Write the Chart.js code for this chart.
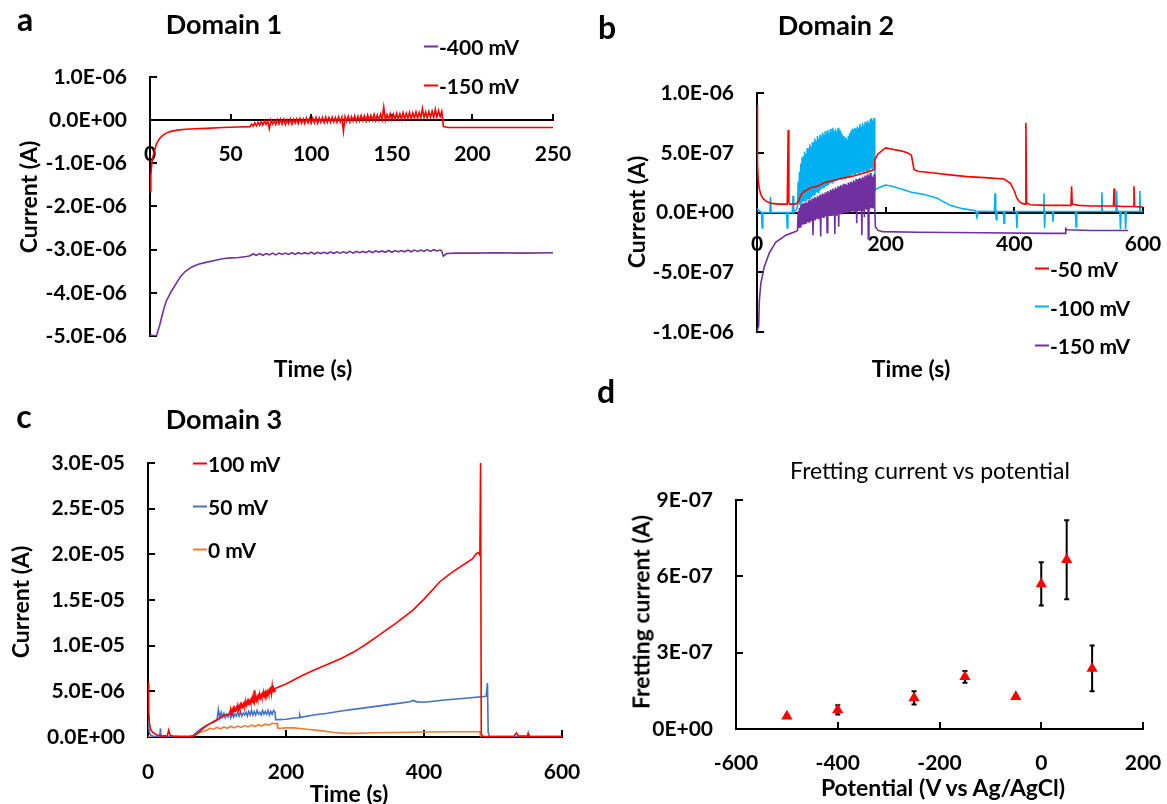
<!DOCTYPE html>
<html>
<head>
<meta charset="utf-8">
<title>Domain current transients</title>
<script src="https://cdn.jsdelivr.net/npm/chart.js@4.4.1/dist/chart.umd.min.js"></script>
<style>
  body { margin: 0; background: #fff; }
  #page { position: relative; width: 1167px; height: 804px; overflow: hidden; font-family: Lato, 'Open Sans', sans-serif; color: #000; }
  canvas { position: absolute; }
  .txt { position: absolute; white-space: nowrap; font-weight: bold; line-height: 1; transform: translate(-50%, -50%); }
  .rot { transform: translate(-50%, -50%) rotate(-90deg); }
  .leg { position: absolute; white-space: nowrap; font-weight: bold; font-size: 21px; line-height: 1; transform: translateY(-50%); display: flex; align-items: center; }
  .leg i { display: inline-block; width: 14px; height: 2px; margin-right: 1px; }
</style>
</head>
<body>
<div id="page">
  <canvas id="chartA" width="580" height="400" style="left:0;top:0"></canvas>
  <canvas id="chartB" width="587" height="400" style="left:580px;top:0"></canvas>
  <canvas id="chartC" width="600" height="414" style="left:0;top:390px"></canvas>
  <canvas id="chartD" width="587" height="414" style="left:580px;top:390px"></canvas>

  <div class="txt" style="left:25px;top:19px;font-size:32px">a</div>
  <div class="txt" style="left:224px;top:23px;font-size:27px">Domain 1</div>
  <div class="txt" style="left:313px;top:368px;font-size:23px">Time (s)</div>
  <div class="txt rot" style="left:28px;top:197px;font-size:23px">Current (A)</div>

  <div class="txt" style="left:607px;top:27px;font-size:32px">b</div>
  <div class="txt" style="left:836px;top:24px;font-size:27px">Domain 2</div>
  <div class="txt" style="left:911px;top:368px;font-size:23px">Time (s)</div>
  <div class="txt rot" style="left:636px;top:212px;font-size:23px">Current (A)</div>

  <div class="txt" style="left:24px;top:416px;font-size:32px">c</div>
  <div class="txt" style="left:224px;top:418px;font-size:27px">Domain 3</div>
  <div class="txt" style="left:349px;top:793px;font-size:23px">Time (s)</div>
  <div class="txt rot" style="left:20px;top:602px;font-size:23px">Current (A)</div>

  <div class="txt" style="left:606px;top:391px;font-size:32px">d</div>
  <div class="txt" style="left:930px;top:470px;font-size:23px;font-weight:normal">Fretting current vs potential</div>
  <div class="txt" style="left:943px;top:787px;font-size:23px">Potential (V vs Ag/AgCl)</div>
  <div class="txt rot" style="left:641px;top:612px;font-size:23px">Fretting current (A)</div>
</div>
<script>
// ---- panel a : Domain 1 ----
const aLabels = ['-400 mV', '-150 mV'];
const aColors = ['#7030A0', '#FF0000'];
const aXTicks = [0, 50, 100, 150, 200, 250];
const aYTicks = [1e-6, 0, -1e-6, -2e-6, -3e-6, -4e-6, -5e-6];

const aTime400 = [0, 4, 6, 8, 10, 13, 16, 19, 22, 26, 30, 34, 40, 45, 50, 55, 60,
  62, 64, 66, 68, 70, 72, 74, 76, 78, 80,
  82, 84, 86, 88, 90, 92, 94, 96, 98, 100,
  102, 104, 106, 108, 110, 112, 114, 116, 118, 120,
  122, 124, 126, 128, 130, 132, 134, 136, 138, 140,
  142, 144, 146, 148, 150, 152, 154, 156, 158, 160,
  162, 164, 166, 168, 170, 172, 174, 176, 178, 180,
  181, 182, 184, 190, 200, 215, 230, 250];
const aCur400 = [-4.98e-6, -5.0e-6, -4.75e-6, -4.45e-6, -4.2e-6, -3.98e-6, -3.8e-6, -3.62e-6, -3.5e-6, -3.4e-6,
  -3.34e-6, -3.3e-6, -3.25e-6, -3.21e-6, -3.19e-6, -3.18e-6, -3.16e-6,
  -3.14e-6, -3.10e-6, -3.13e-6, -3.09e-6, -3.13e-6, -3.09e-6, -3.12e-6, -3.08e-6, -3.12e-6, -3.08e-6,
  -3.11e-6, -3.08e-6, -3.11e-6, -3.07e-6, -3.11e-6, -3.07e-6, -3.10e-6, -3.07e-6, -3.10e-6, -3.06e-6,
  -3.10e-6, -3.06e-6, -3.09e-6, -3.06e-6, -3.09e-6, -3.05e-6, -3.09e-6, -3.05e-6, -3.08e-6, -3.05e-6,
  -3.08e-6, -3.04e-6, -3.08e-6, -3.04e-6, -3.07e-6, -3.04e-6, -3.07e-6, -3.03e-6, -3.07e-6, -3.03e-6,
  -3.06e-6, -3.03e-6, -3.06e-6, -3.02e-6, -3.06e-6, -3.02e-6, -3.05e-6, -3.02e-6, -3.05e-6, -3.01e-6,
  -3.05e-6, -3.01e-6, -3.04e-6, -3.01e-6, -3.04e-6, -3.00e-6, -3.04e-6, -3.00e-6, -3.03e-6, -3.01e-6,
  -3.03e-6, -3.15e-6, -3.09e-6, -3.08e-6, -3.08e-6, -3.07e-6, -3.08e-6, -3.07e-6];

const aTime150 = [0, 0.5, 1, 2, 3, 4, 6, 8, 10, 13, 17, 22, 28, 35, 45, 55,
  62, 63, 64, 65, 66, 67, 68, 69, 70, 71,
  72, 73, 74, 75, 76, 77, 78, 79, 80, 81,
  82, 83, 84, 85, 86, 87, 88, 89, 90, 91,
  92, 93, 94, 95, 96, 97, 98, 99, 100, 101,
  102, 103, 104, 105, 106, 107, 108, 109, 110, 111,
  112, 113, 114, 115, 116, 117, 118, 119, 120, 121,
  122, 123, 124, 125, 126, 127, 128, 129, 130, 131,
  132, 133, 134, 135, 136, 137, 138, 139, 140, 141,
  142, 143, 144, 145, 146, 147, 148, 149, 150, 151,
  152, 153, 154, 155, 156, 157, 158, 159, 160, 161,
  162, 163, 164, 165, 166, 167, 168, 169, 170, 171,
  172, 173, 174, 175, 176, 177, 178, 179, 180, 181,
  182, 185, 200, 225, 250];
const aCur150 = [-1.65e-6, -1.3e-6, -1.05e-6, -0.82e-6, -0.68e-6, -0.55e-6, -0.42e-6, -0.35e-6,
  -0.3e-6, -0.26e-6, -0.23e-6, -0.21e-6, -0.2e-6, -0.19e-6, -0.17e-6, -0.16e-6,
  -0.15e-6, -0.09e-6, -0.14e-6, -0.06e-6, -0.13e-6, -0.05e-6, -0.12e-6, -0.03e-6, -0.11e-6, -0.02e-6,
  -0.10e-6, -0.01e-6, -0.20e-6, 0.00e-6, -0.09e-6, -0.01e-6, -0.10e-6, 0.01e-6, -0.09e-6, 0.02e-6,
  -0.09e-6, 0.02e-6, -0.10e-6, 0.01e-6, -0.08e-6, 0.03e-6, -0.09e-6, 0.02e-6, -0.07e-6, 0.03e-6,
  -0.08e-6, 0.04e-6, -0.07e-6, 0.03e-6, -0.08e-6, 0.05e-6, -0.06e-6, 0.04e-6, -0.07e-6, 0.05e-6,
  -0.06e-6, 0.06e-6, -0.07e-6, 0.05e-6, -0.05e-6, 0.06e-6, -0.06e-6, 0.07e-6, -0.05e-6, 0.06e-6,
  -0.05e-6, 0.07e-6, -0.04e-6, 0.06e-6, -0.05e-6, 0.08e-6, -0.04e-6, 0.07e-6, -0.26e-6, 0.08e-6,
  -0.03e-6, 0.09e-6, -0.04e-6, 0.08e-6, -0.02e-6, 0.10e-6, -0.03e-6, 0.09e-6, -0.02e-6, 0.11e-6,
  -0.01e-6, 0.10e-6, -0.02e-6, 0.12e-6, -0.01e-6, 0.11e-6, 0.00e-6, 0.13e-6, -0.01e-6, 0.12e-6,
  0.00e-6, 0.14e-6, 0.01e-6, 0.30e-6, 0.00e-6, 0.13e-6, 0.02e-6, 0.15e-6, 0.01e-6, 0.14e-6,
  0.02e-6, 0.16e-6, 0.03e-6, 0.15e-6, 0.02e-6, 0.17e-6, 0.03e-6, 0.16e-6, 0.04e-6, 0.18e-6,
  0.03e-6, 0.17e-6, 0.05e-6, 0.19e-6, 0.04e-6, 0.18e-6, 0.05e-6, 0.27e-6, 0.06e-6, 0.19e-6,
  0.05e-6, 0.20e-6, 0.07e-6, 0.21e-6, 0.06e-6, 0.25e-6, 0.07e-6, 0.22e-6, 0.08e-6, 0.20e-6,
  -0.15e-6, -0.17e-6, -0.17e-6, -0.17e-6, -0.17e-6];

// ---- panel b : Domain 2 ----
const bLabels = ['-50 mV', '-100 mV', '-150 mV'];
const bColors = ['#FF0000', '#00B0F0', '#7030A0'];
const bXTicks = [0, 200, 400, 600];
const bYTicks = [1e-6, 5e-7, 0, -5e-7, -1e-6];

const bTime50 = [0, 0.5, 1, 2, 3.5, 6, 9, 14, 22, 35,
  47, 48.5, 49.5, 51, 58, 62, 65, 68, 72, 78,
  85, 94, 105, 120, 135, 146, 160, 172, 182, 183,
  188, 195, 200, 210, 220, 228, 235, 240, 244, 250,
  275, 300, 327, 360, 384, 394, 400, 404, 408, 412,
  417, 418, 419, 425, 450, 488, 489, 490, 500, 520,
  554, 555, 556, 570, 585, 586, 587, 600];
const bCur50 = [9.0e-7, 6.0e-7, 4.0e-7, 2.7e-7, 2.0e-7, 1.5e-7, 1.2e-7, 0.95e-7, 0.76e-7, 0.7e-7,
  0.7e-7, 6.9e-7, 0.8e-7, 0.7e-7, 0.7e-7, 0.75e-7, 1.0e-7, 1.45e-7, 1.7e-7, 1.9e-7,
  2.1e-7, 2.2e-7, 2.5e-7, 2.7e-7, 2.9e-7, 3.0e-7, 3.2e-7, 3.4e-7, 3.6e-7, 4.4e-7,
  4.9e-7, 5.2e-7, 5.4e-7, 5.3e-7, 5.2e-7, 5.1e-7, 4.95e-7, 4.8e-7, 3.6e-7, 3.45e-7,
  3.3e-7, 3.15e-7, 3.0e-7, 2.9e-7, 2.8e-7, 2.45e-7, 1.8e-7, 1.2e-7, 0.9e-7, 0.75e-7,
  0.7e-7, 7.5e-7, 0.8e-7, 0.65e-7, 0.6e-7, 0.6e-7, 2.2e-7, 0.7e-7, 0.6e-7, 0.55e-7,
  0.55e-7, 2.0e-7, 0.55e-7, 0.5e-7, 0.5e-7, 2.2e-7, 0.5e-7, 0.45e-7];

const bTime100 = [0, 7, 8, 9, 20, 21, 22, 46, 47, 48, 55, 56, 57, 62,
  63, 64, 65, 66, 67, 68, 69, 70, 71, 72,
  73, 74, 75, 76, 77, 78, 79, 80, 81, 82,
  83, 84, 85, 86, 87, 88, 89, 90, 91, 92,
  93, 94, 95, 96, 97, 98, 99, 100, 101, 102,
  103, 104, 105, 106, 107, 108, 109, 110, 111, 112,
  113, 114, 115, 116, 117, 118, 119, 120, 121, 122,
  123, 124, 125, 126, 127, 128, 129, 130, 131, 132,
  133, 134, 135, 136, 137, 138, 139, 140, 141, 142,
  143, 144, 145, 146, 147, 148, 149, 150, 151, 152,
  153, 154, 155, 156, 157, 158, 159, 160, 161, 162,
  163, 164, 165, 166, 167, 168, 169, 170, 171, 172,
  173, 174, 175, 176, 177, 178, 179, 180, 181, 182,
  183,
  184, 190, 200, 210, 228, 240, 260, 280, 300, 321,
  340, 342, 344, 369, 370, 371, 372, 373, 383, 384,
  385, 403, 404, 405, 445, 446, 447, 448, 459, 460,
  461, 495, 496, 497, 535, 536, 537, 558, 559, 560,
  564, 565, 566, 572, 573, 574, 594, 595, 596, 600];
const bCur100 = [0.3e-7, 0, -1.3e-7, 0, 0, 1.3e-7, 0, 0, -1.3e-7, 0, 0, 1.4e-7, 0, 0.3e-7,
  0.6e-7, 2.6e-7, 0.7e-7, 3.4e-7, 0.7e-7, 4.1e-7, 0.8e-7, 4.6e-7, 0.9e-7, 4.7e-7,
  0.9e-7, 5.1e-7, 1.0e-7, 4.9e-7, 1.0e-7, 5.4e-7, 1.1e-7, 5.3e-7, 1.2e-7, 5.7e-7,
  1.2e-7, 5.5e-7, 1.3e-7, 5.9e-7, 1.4e-7, 5.8e-7, 1.5e-7, 6.2e-7, 1.6e-7, 6.0e-7,
  1.7e-7, 6.4e-7, 1.7e-7, 6.2e-7, 1.8e-7, 6.5e-7, 1.9e-7, 6.3e-7, 2.0e-7, 6.7e-7,
  2.1e-7, 6.5e-7, 2.1e-7, 6.8e-7, 2.2e-7, 6.6e-7, 2.3e-7, 6.9e-7, 2.3e-7, 6.7e-7,
  2.4e-7, 7.0e-7, 2.5e-7, 6.8e-7, 2.5e-7, 7.1e-7, 2.6e-7, 6.8e-7, 2.6e-7, 7.0e-7,
  2.7e-7, 6.8e-7, 2.7e-7, 7.1e-7, 2.8e-7, 6.9e-7, 2.8e-7, 6.8e-7, 2.8e-7, 6.6e-7,
  2.9e-7, 6.4e-7, 2.9e-7, 6.2e-7, 2.9e-7, 6.3e-7, 3.0e-7, 6.1e-7, 3.0e-7, 6.4e-7,
  3.0e-7, 6.6e-7, 3.1e-7, 6.8e-7, 3.1e-7, 7.0e-7, 3.2e-7, 6.9e-7, 3.2e-7, 7.1e-7,
  3.2e-7, 7.0e-7, 3.3e-7, 7.2e-7, 3.3e-7, 7.1e-7, 3.3e-7, 7.4e-7, 3.4e-7, 7.2e-7,
  3.4e-7, 7.5e-7, 3.4e-7, 7.3e-7, 3.5e-7, 7.6e-7, 3.5e-7, 7.4e-7, 3.5e-7, 7.7e-7,
  3.6e-7, 7.5e-7, 3.6e-7, 7.8e-7, 3.7e-7, 7.9e-7, 3.7e-7, 7.7e-7, 3.8e-7, 7.9e-7,
  3.8e-7,
  1.9e-7, 2.1e-7, 2.3e-7, 2.2e-7, 1.9e-7, 1.7e-7, 1.5e-7, 1.2e-7, 0.6e-7, 0.3e-7,
  0.15e-7, -0.4e-7, 0.1e-7, 0.08e-7, 1.6e-7, 0.08e-7, -0.6e-7, 0.08e-7, 0.08e-7, -0.9e-7,
  0.08e-7, 0.08e-7, -1.3e-7, 0.08e-7, 0.08e-7, 1.6e-7, -1.3e-7, 0.08e-7, 0.08e-7, -0.8e-7,
  0.08e-7, 0.08e-7, -1.2e-7, 0.08e-7, 0.08e-7, 1.7e-7, 0.08e-7, 0.08e-7, 1.8e-7, 0.08e-7,
  0.08e-7, -1.4e-7, 0.08e-7, 0.08e-7, -1.4e-7, 0.08e-7, 0.08e-7, 1.8e-7, 0.08e-7, 0.08e-7];

const bTime150 = [0, 2.6, 3.6, 6, 11, 19, 29, 45, 60,
  63, 64, 65, 66, 67, 68, 69, 70, 71, 72,
  73, 74, 75, 76, 77, 78, 79, 80, 81, 82,
  83, 84, 85, 86, 87, 88, 89, 90, 91, 92,
  93, 94, 95, 96, 97, 98, 99, 100, 101, 102,
  103, 104, 105, 106, 107, 108, 109, 110, 111, 112,
  113, 114, 115, 116, 117, 118, 119, 120, 121, 122,
  123, 124, 125, 126, 127, 128, 129, 130, 131, 132,
  133, 134, 135, 136, 137, 138, 139, 140, 141, 142,
  143, 144, 145, 146, 147, 148, 149, 150, 151, 152,
  153, 154, 155, 156, 157, 158, 159, 160, 161, 162,
  163, 164, 165, 166, 167, 168, 169, 170, 171, 172,
  173, 174, 175, 176, 177, 178, 179, 180, 181, 182,
  183,
  184, 188, 195, 250, 350, 450, 479, 480, 482, 520, 577];
const bCur150 = [-9.9e-7, -9.5e-7, -7.4e-7, -5.9e-7, -4.6e-7, -3.4e-7, -2.5e-7, -1.9e-7, -1.6e-7,
  -1.5e-7, 0.1e-7, -1.3e-7, 0.4e-7, -1.2e-7, 0.6e-7, -1.1e-7, 0.7e-7, -1.0e-7, 0.8e-7,
  -1.0e-7, 0.7e-7, -0.9e-7, 0.9e-7, -0.9e-7, 0.8e-7, -0.8e-7, 1.0e-7, -0.8e-7, 1.1e-7,
  -0.7e-7, 1.0e-7, -0.7e-7, 1.2e-7, -1.9e-7, 1.1e-7, -0.6e-7, 1.3e-7, -0.6e-7, 1.2e-7,
  -0.5e-7, 1.4e-7, -0.5e-7, 1.3e-7, -0.5e-7, 1.5e-7, -2.0e-7, 1.4e-7, -0.4e-7, 1.6e-7,
  -0.4e-7, 1.5e-7, -0.4e-7, 1.7e-7, -0.3e-7, 1.6e-7, -1.7e-7, 1.8e-7, -0.3e-7, 1.7e-7,
  -0.3e-7, 1.9e-7, -0.3e-7, 1.8e-7, -0.2e-7, 2.0e-7, -0.2e-7, 1.9e-7, -1.8e-7, 2.1e-7,
  -0.2e-7, 2.0e-7, -0.1e-7, 2.2e-7, -1.2e-7, 2.1e-7, -0.1e-7, 2.3e-7, -0.1e-7, 2.2e-7,
  -0.1e-7, 2.4e-7, 0.0, 2.3e-7, 0.0, 2.4e-7, 0.0, 2.3e-7, 0.0, 2.5e-7,
  0.0, 2.4e-7, 0.1e-7, 2.6e-7, 0.1e-7, 2.5e-7, 0.1e-7, 2.7e-7, 0.1e-7, 2.6e-7,
  0.1e-7, 2.8e-7, -0.9e-7, 2.7e-7, 0.2e-7, 2.8e-7, 0.2e-7, 2.9e-7, 0.2e-7, 2.8e-7,
  -1.9e-7, 3.0e-7, 0.2e-7, 2.9e-7, -0.4e-7, 3.1e-7, 0.3e-7, 3.0e-7, 0.3e-7, 3.2e-7,
  -2.2e-7, 3.1e-7, 0.3e-7, 3.3e-7, 0.4e-7, 3.1e-7, 0.4e-7, 3.0e-7, 0.4e-7, 3.2e-7,
  0.4e-7,
  -1.2e-7, -1.5e-7, -1.6e-7, -1.65e-7, -1.7e-7, -1.75e-7, -1.75e-7, -1.35e-7, -1.45e-7, -1.5e-7, -1.5e-7];

// ---- panel c : Domain 3 ----
const cLabels = ['100 mV', '50 mV', '0 mV'];
const cColors = ['#FF0000', '#4472C4', '#ED7D31'];
const cXTicks = [0, 200, 400, 600];
const cYTicks = [3e-5, 2.5e-5, 2e-5, 1.5e-5, 1e-5, 5e-6, 0];

const cTime100 = [0, 1, 2, 4, 7, 12, 20, 28, 30, 32, 36, 45, 55, 65, 70, 78, 85, 95, 105, 112,
  119, 120, 121, 122, 123, 124, 125, 126, 127, 128,
  129, 130, 131, 132, 133, 134, 135, 136, 137, 138,
  139, 140, 141, 142, 143, 144, 145, 146, 147, 148,
  149, 150, 151, 152, 153, 154, 155, 156, 157, 158,
  159, 160, 161, 162, 163, 164, 165, 166, 167, 168,
  169, 170, 171, 172, 173, 174, 175, 176, 177, 178,
  179, 180, 181, 182, 183, 184,
  200, 220, 240, 259, 280, 298, 315, 336, 360, 384,
  400, 423, 440, 452, 466, 470, 476, 480, 481, 482,
  483, 486, 530, 534, 537, 550, 551, 553, 580, 600];
const cCur100 = [6.0e-6, 3.0e-6, 1.5e-6, 0.8e-6, 0.5e-6, 0.25e-6, 0.1e-6, 0.15e-6, 0.75e-6, 0.2e-6,
  0.1e-6, 0.05e-6, 0.05e-6, 0.05e-6, 0.3e-6, 0.8e-6, 1.25e-6, 1.7e-6, 2.1e-6, 2.4e-6,
  2.5e-6, 2.9e-6, 2.6e-6, 3.0e-6, 2.7e-6, 3.1e-6, 2.8e-6, 3.1e-6, 2.9e-6, 3.2e-6,
  2.9e-6, 3.3e-6, 3.0e-6, 3.4e-6, 3.1e-6, 3.5e-6, 3.2e-6, 3.5e-6, 3.3e-6, 3.6e-6,
  3.3e-6, 3.7e-6, 3.4e-6, 3.8e-6, 3.5e-6, 3.9e-6, 3.6e-6, 3.9e-6, 3.7e-6, 4.0e-6,
  3.7e-6, 4.1e-6, 3.8e-6, 4.2e-6, 3.9e-6, 5.1e-6, 4.0e-6, 4.3e-6, 4.0e-6, 4.4e-6,
  4.1e-6, 4.5e-6, 4.2e-6, 4.6e-6, 4.3e-6, 4.6e-6, 4.3e-6, 4.7e-6, 4.4e-6, 4.8e-6,
  4.5e-6, 4.9e-6, 4.6e-6, 4.9e-6, 4.6e-6, 5.0e-6, 4.7e-6, 5.1e-6, 4.8e-6, 5.5e-6,
  4.8e-6, 5.6e-6, 4.9e-6, 5.3e-6, 5.0e-6, 5.3e-6,
  5.8e-6, 6.6e-6, 7.3e-6, 7.9e-6, 8.6e-6, 9.3e-6, 10.1e-6, 11.2e-6, 12.5e-6, 13.9e-6,
  15.1e-6, 17.0e-6, 18.0e-6, 18.6e-6, 19.3e-6, 19.5e-6, 20.1e-6, 20.2e-6, 19.8e-6, 30.0e-6,
  0.3e-6, 0.05e-6, 0.05e-6, 0.45e-6, 0.1e-6, 0.1e-6, 0.35e-6, 0.05e-6, 0.05e-6, 0.05e-6];

const cTime50 = [0, 1, 2, 4, 8, 17, 18, 19, 30, 60, 66, 75, 85, 95,
  100, 102, 104, 106, 108, 110, 112, 114, 116, 118,
  120, 122, 124, 126, 128, 130, 132, 134, 136, 138,
  140, 142, 144, 146, 148, 150, 152, 154, 156, 158,
  160, 162, 164, 166, 168, 170, 172, 174, 176, 178,
  180, 182, 184,
  185, 190, 200, 215, 219, 220, 221, 240, 260, 280,
  300, 330, 360, 380, 384, 390, 400, 430, 460, 490,
  492, 493, 495, 550, 551, 552, 580, 600];
const cCur50 = [2.0e-6, 1.0e-6, 0.5e-6, 0.2e-6, 0.05e-6, 0.05e-6, 0.95e-6, 0.05e-6, 0.05e-6, 0.05e-6,
  0.2e-6, 0.8e-6, 1.3e-6, 1.6e-6,
  1.8e-6, 3.0e-6, 2.1e-6, 2.7e-6, 2.2e-6, 2.6e-6, 2.1e-6, 2.5e-6, 2.2e-6, 2.7e-6,
  2.1e-6, 2.6e-6, 2.2e-6, 2.5e-6, 2.3e-6, 2.7e-6, 2.3e-6, 2.8e-6, 2.3e-6, 2.6e-6,
  2.4e-6, 2.7e-6, 2.3e-6, 2.8e-6, 2.4e-6, 2.9e-6, 2.4e-6, 2.8e-6, 2.4e-6, 2.9e-6,
  2.5e-6, 2.7e-6, 2.4e-6, 2.9e-6, 2.5e-6, 2.8e-6, 2.5e-6, 2.9e-6, 2.4e-6, 2.8e-6,
  2.5e-6, 2.9e-6, 2.7e-6,
  1.9e-6, 1.9e-6, 1.95e-6, 2.1e-6, 2.1e-6, 2.4e-6, 2.15e-6, 2.4e-6, 2.6e-6, 2.85e-6,
  3.05e-6, 3.35e-6, 3.65e-6, 3.85e-6, 4.0e-6, 3.85e-6, 3.8e-6, 4.05e-6, 4.25e-6, 4.45e-6,
  5.9e-6, 0.5e-6, 0.05e-6, 0.05e-6, 0.4e-6, 0.05e-6, 0.05e-6, 0.05e-6];

const cTime0 = [0, 30, 62, 66, 75, 85, 90, 95, 100, 105,
  110, 115, 120, 125, 130, 135, 140, 145, 150, 155,
  160, 165, 170, 175, 180, 184, 187, 188, 192, 200,
  211, 230, 250, 270, 288, 300, 327, 360, 400, 440,
  481, 482];
const cCur0 = [0.05e-6, 0.05e-6, 0.05e-6, 0.2e-6, 0.5e-6, 0.75e-6, 0.95e-6, 0.85e-6, 1.05e-6, 0.9e-6,
  1.1e-6, 0.95e-6, 1.15e-6, 1.0e-6, 1.2e-6, 1.05e-6, 1.25e-6, 1.1e-6, 1.3e-6, 1.15e-6,
  1.35e-6, 1.2e-6, 1.4e-6, 1.3e-6, 1.5e-6, 1.45e-6, 1.5e-6, 0.95e-6, 0.95e-6, 1.0e-6,
  1.0e-6, 0.85e-6, 0.7e-6, 0.5e-6, 0.4e-6, 0.4e-6, 0.47e-6, 0.5e-6, 0.55e-6, 0.58e-6,
  0.58e-6, 0.02e-6];

// ---- panel d : fretting current vs potential ----
const dXTicks = [-600, -400, -200, 0, 200];
const dYTicks = [0, 3e-7, 6e-7, 9e-7];
const dPotential = [-500, -400, -250, -150, -50, 0, 50, 100];
const dCurrent = [5.0e-8, 7.5e-8, 1.22e-7, 2.05e-7, 1.27e-7, 5.7e-7, 6.65e-7, 2.38e-7];
const dError = [0.5e-8, 1.8e-8, 2.6e-8, 2.3e-8, 0.5e-8, 8.5e-8, 1.55e-7, 9.0e-8];

// ---- helpers ----
Chart.defaults.font.family = "Lato, 'Open Sans', sans-serif";
Chart.defaults.color = '#000';
const tickFont = { size: 21, weight: 'bold' };

// Excel style scientific labels: 1.0E-06, 0E+00
function sciLabel(digits) {
  return function (v) {
    if (Math.abs(v) < 1e-15) v = 0;
    const parts = v.toExponential(digits).split('e');
    const e = parseInt(parts[1], 10);
    return parts[0] + 'E' + (e < 0 ? '-' : '+') + String(Math.abs(e)).padStart(2, '0');
  };
}

function points(xs, ys) {
  return xs.map((x, i) => ({ x: x, y: ys[i] }));
}

function trace(label, color, xs, ys) {
  return { label, data: points(xs, ys), borderColor: color, backgroundColor: color,
    borderWidth: 1.6, pointRadius: 0, tension: 0 };
}

// fixed box sizes so the plot areas land where the figure has them
function yAxis(ticks, digits, width) {
  return {
    type: 'linear', position: 'left', min: Math.min(...ticks), max: Math.max(...ticks),
    afterBuildTicks: s => { s.ticks = ticks.map(v => ({ value: v })); },
    afterFit: s => { s.width = width; s.paddingTop = 0; s.paddingBottom = 0; },
    grid: { drawOnChartArea: false, color: '#000', lineWidth: 2, tickLength: -7 },
    border: { color: '#000', width: 2 },
    ticks: { padding: 30, autoSkip: false, font: tickFont, callback: sciLabel(digits) }
  };
}

function xAxis(ticks, height, padding, position) {
  return {
    type: 'linear', position: position, min: ticks[0], max: ticks[ticks.length - 1],
    afterBuildTicks: s => { s.ticks = ticks.map(v => ({ value: v })); },
    afterFit: s => { s.height = height; s.paddingLeft = 0; s.paddingRight = 0; },
    grid: { drawOnChartArea: false, color: '#000', lineWidth: 2, tickLength: -7 },
    border: { color: '#000', width: 2 },
    ticks: { padding: padding, autoSkip: false, maxRotation: 0, font: tickFont, callback: v => String(v) }
  };
}

function makeChart(id, type, datasets, scales, padding, plugins) {
  return new Chart(document.getElementById(id), {
    type: type,
    data: { datasets: datasets },
    options: {
      responsive: false, animation: false, events: [],
      layout: { padding: padding },
      scales: scales,
      plugins: { legend: { display: false }, tooltip: { enabled: false } }
    },
    plugins: plugins || []
  });
}

function legend(x, y, gap, labels, colors) {
  const page = document.getElementById('page');
  labels.forEach((label, i) => {
    const el = document.createElement('div');
    el.className = 'leg';
    el.style.left = x + 'px';
    el.style.top = (y + i * gap) + 'px';
    el.innerHTML = '<i style="background:' + colors[i] + '"></i>' + label;
    page.appendChild(el);
  });
}

// error bars drawn through the chart's own scales
const errorBars = {
  id: 'errorBars',
  beforeDatasetsDraw(chart) {
    const { ctx, scales: { x, y } } = chart;
    ctx.save();
    ctx.strokeStyle = '#000';
    ctx.lineWidth = 2;
    dPotential.forEach((p, i) => {
      const px = x.getPixelForValue(p);
      const top = y.getPixelForValue(dCurrent[i] + dError[i]);
      const bot = y.getPixelForValue(dCurrent[i] - dError[i]);
      ctx.beginPath();
      ctx.moveTo(px, top); ctx.lineTo(px, bot);
      ctx.moveTo(px - 2.5, top); ctx.lineTo(px + 2.5, top);
      ctx.moveTo(px - 2.5, bot); ctx.lineTo(px + 2.5, bot);
      ctx.stroke();
    });
    ctx.restore();
  }
};

// ---- charts ----
makeChart('chartA', 'line', [
  trace(aLabels[0], aColors[0], aTime400, aCur400),
  trace(aLabels[1], aColors[1], aTime150, aCur150)
], {
  x: xAxis(aXTicks, 40, 28, { y: 0 }),
  y: yAxis(aYTicks, 1, 150)
}, { top: 77, right: 27, bottom: 64, left: 0 });

makeChart('chartB', 'line', [
  trace(bLabels[2], bColors[2], bTime150, bCur150),
  trace(bLabels[0], bColors[0], bTime50, bCur50),
  trace(bLabels[1], bColors[1], bTime100, bCur100)
], {
  x: xAxis(bXTicks, 40, 26, { y: 0 }),
  y: yAxis(bYTicks, 1, 177)
}, { top: 93, right: 24, bottom: 68, left: 0 });

makeChart('chartC', 'line', [
  trace(cLabels[0], cColors[0], cTime100, cCur100),
  trace(cLabels[1], cColors[1], cTime50, cCur50),
  trace(cLabels[2], cColors[2], cTime0, cCur0)
], {
  x: xAxis(cXTicks, 45, 30, 'bottom'),
  y: yAxis(cYTicks, 1, 148)
}, { top: 73, right: 38, bottom: 22, left: 0 });

makeChart('chartD', 'scatter', [{
  label: 'Fretting current',
  data: points(dPotential, dCurrent),
  pointStyle: 'triangle', pointRadius: 6.5,
  backgroundColor: '#FF0000', borderColor: '#FF0000', borderWidth: 0
}], {
  x: xAxis(dXTicks, 45, 29, 'bottom'),
  y: yAxis(dYTicks, 0, 156)
}, { top: 110, right: 24, bottom: 30, left: 0 }, [errorBars]);

legend(424, 46, 39, aLabels, aColors);
legend(1035, 268, 38.5, bLabels, bColors);
legend(193, 463, 43, cLabels, cColors);
</script>
</body>
</html>
